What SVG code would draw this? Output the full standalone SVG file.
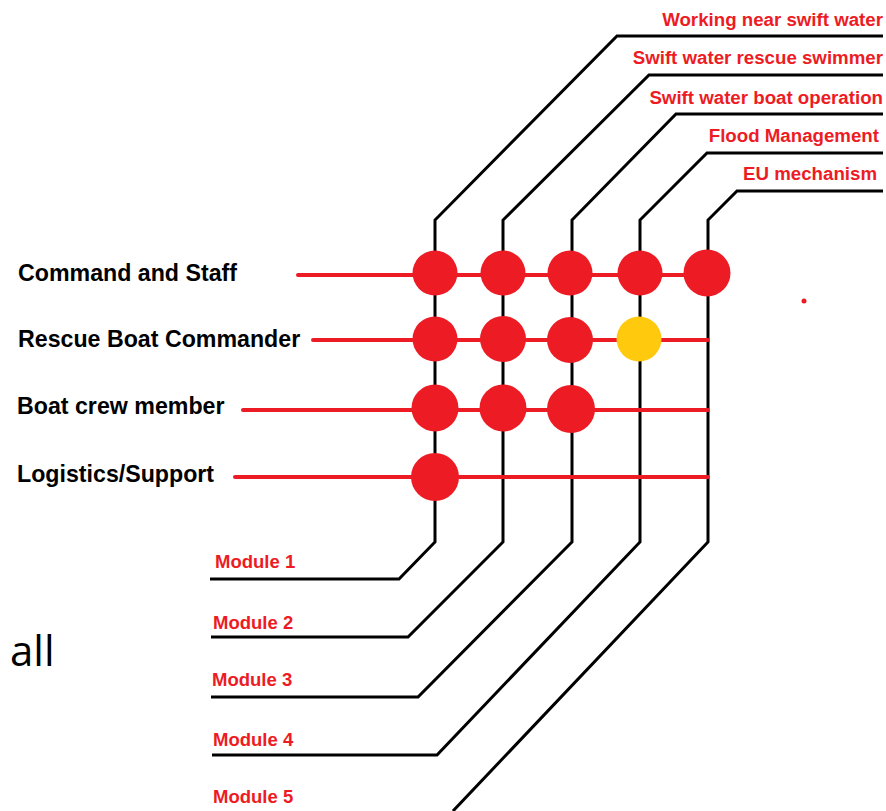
<svg xmlns="http://www.w3.org/2000/svg" width="886" height="811" viewBox="0 0 886 811">
<style>
.blk{fill:none;stroke:#000;stroke-width:3;stroke-linejoin:miter}
.red{fill:none;stroke:#ED1C24;stroke-width:4;stroke-linecap:round}
.dot{fill:#ED1C24}
.yel{fill:#FFC90E}
.lab{font-family:"Liberation Sans",Arial,sans-serif;font-weight:bold;font-size:23.2px;fill:#000}
.top{font-family:"Liberation Sans",Arial,sans-serif;font-weight:bold;font-size:18.7px;fill:#ED1C24;text-anchor:end}
.mod{font-family:"Liberation Sans",Arial,sans-serif;font-weight:bold;font-size:18.5px;fill:#ED1C24}
</style>
<rect width="886" height="811" fill="#fff"/>
<g id="connectors">
<polyline class="blk" points="883,36 617,36 435,220 435,542 399,579 210,579"/>
<polyline class="blk" points="883,75 649,75 503,220 503,542 408,637 211,637"/>
<polyline class="blk" points="883,114 676,114 572,220 572,542 418,697 211,697"/>
<polyline class="blk" points="883,153 707,153 640,220 640,542 437,755 212,755"/>
<polyline class="blk" points="883,191 737,191 708,220 708,542 453,811"/>
<line class="red" x1="298" y1="275" x2="708" y2="275"/>
<line class="red" x1="313" y1="340" x2="708" y2="340"/>
<line class="red" x1="243" y1="410" x2="708" y2="410"/>
<line class="red" x1="235" y1="477" x2="708" y2="477"/>
</g>
<g id="row-command">
<text class="lab" x="18" y="281">Command and Staff</text>
<circle class="dot" cx="435" cy="273" r="22.5"/>
<circle class="dot" cx="503" cy="273" r="22.5"/>
<circle class="dot" cx="570" cy="273" r="22.5"/>
<circle class="dot" cx="640" cy="273" r="22.5"/>
<circle class="dot" cx="707" cy="273" r="23.5"/>
</g>
<g id="row-rescue">
<text class="lab" x="18" y="347">Rescue Boat Commander</text>
<circle class="dot" cx="435" cy="339" r="22.5"/>
<circle class="dot" cx="503" cy="339" r="23"/>
<circle class="dot" cx="570" cy="340" r="23"/>
<circle class="yel" cx="639" cy="339" r="22.5"/>
</g>
<g id="row-crew">
<text class="lab" x="17" y="414">Boat crew member</text>
<circle class="dot" cx="435" cy="408" r="23.5"/>
<circle class="dot" cx="503" cy="408" r="23.5"/>
<circle class="dot" cx="571" cy="409" r="24"/>
</g>
<g id="row-logistics">
<text class="lab" x="17" y="482">Logistics/Support</text>
<circle class="dot" cx="435" cy="477" r="24"/>
</g>
<g id="col-1"><text class="top" x="883" y="26">Working near swift water</text><text class="mod" x="215" y="568">Module 1</text></g>
<g id="col-2"><text class="top" x="883" y="64">Swift water rescue swimmer</text><text class="mod" x="213" y="629">Module 2</text></g>
<g id="col-3"><text class="top" x="883" y="104">Swift water boat operation</text><text class="mod" x="212" y="686">Module 3</text></g>
<g id="col-4"><text class="top" x="879" y="142">Flood Management</text><text class="mod" x="213" y="746">Module 4</text></g>
<g id="col-5"><text class="top" x="877" y="180">EU mechanism</text><text class="mod" x="213" y="803">Module 5</text></g>
<g id="misc">
<text x="10" y="666" font-family="'Open Sans','Liberation Sans',sans-serif" font-size="42" fill="#000">all</text>
<circle class="dot" cx="804" cy="301" r="2.5"/>
</g>
</svg>
